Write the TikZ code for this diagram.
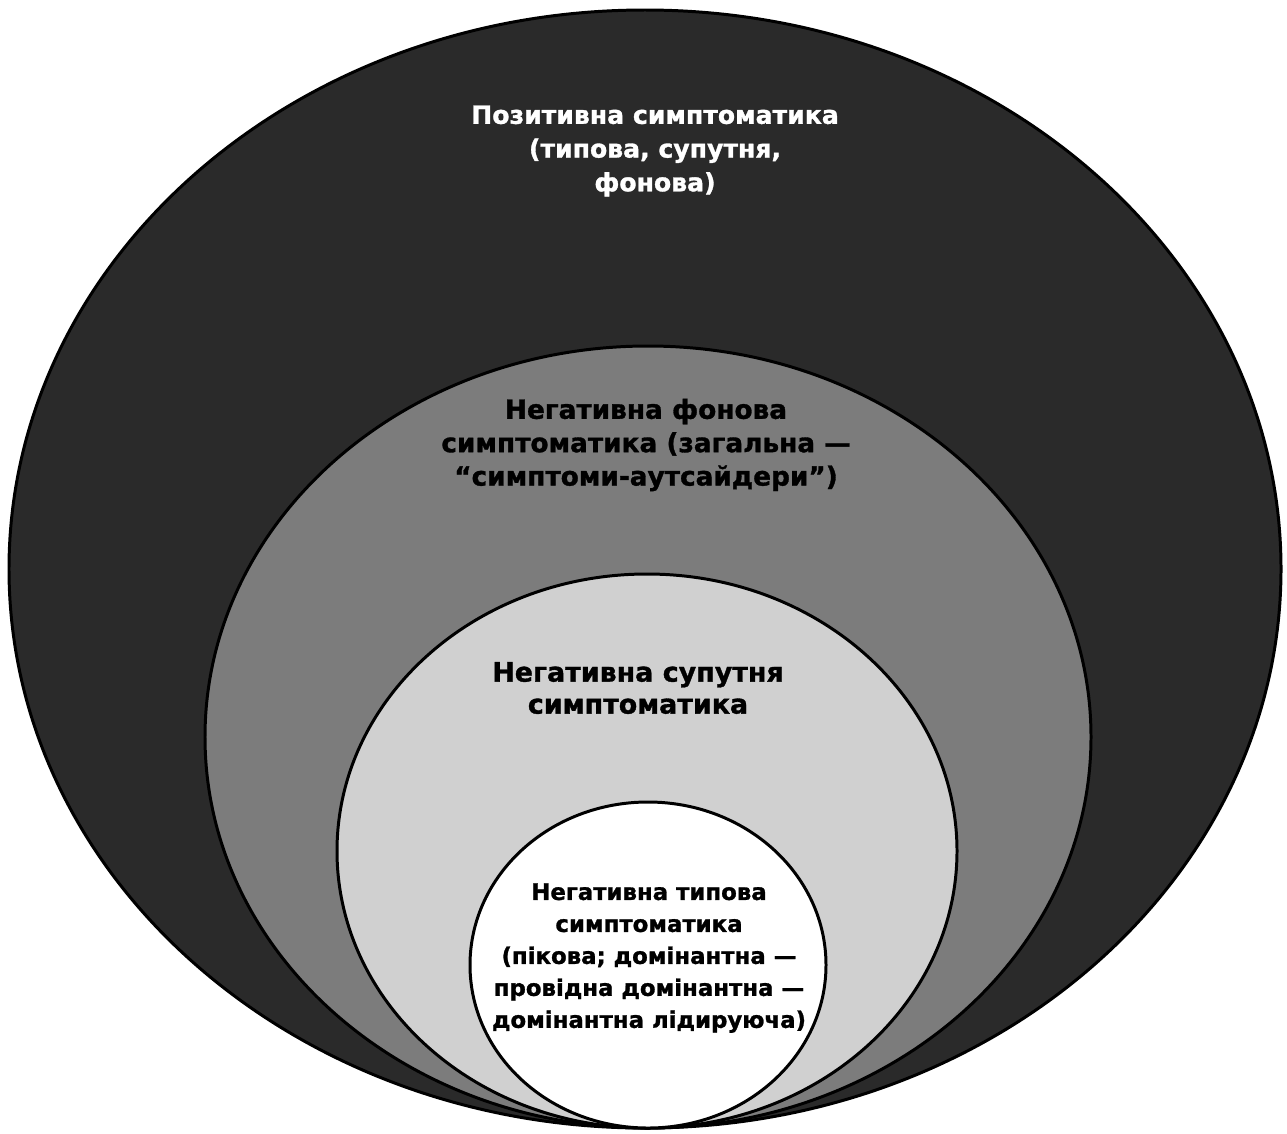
\documentclass[tikz,border=0pt]{standalone}
\usepackage{fontspec}
\setmainfont{DejaVu Sans}
\newfontfamily\heavyfont{DejaVu Sans Bold}[FakeBold=1.2]
\definecolor{darkfill}{HTML}{2A2A2A}
\definecolor{midfill}{HTML}{7C7C7C}
\definecolor{lightfill}{HTML}{D0D0D0}
\begin{document}
\begin{tikzpicture}[x=0.02cm,y=-0.02cm,
  ring/.style={draw=black,line width=1.7pt},
  lbl/.style={align=center,inner sep=0pt}]
\useasboundingbox[fill=white] (0,0) rectangle (1287,1133);
\draw[ring,fill=darkfill] (645,569) ellipse [x radius=636,y radius=559];
\draw[ring,fill=midfill] (648,737) ellipse [x radius=443,y radius=391];
\draw[ring,fill=lightfill] (647,851) ellipse [x radius=310,y radius=277];
\draw[ring,fill=white] (648,965) ellipse [x radius=178,y radius=163];
\node[lbl,text=white,font=\heavyfont\fontsize{14.3}{19.2}\selectfont] (pos) at (655,151) {Позитивна симптоматика\\(типова, супутня,\\фонова)};
\node[lbl,font=\heavyfont\fontsize{15}{19}\selectfont] (neg1) at (646,445) {Негативна фонова\\симптоматика (загальна —\\“симптоми-аутсайдери”)};
\node[lbl,font=\heavyfont\fontsize{15.3}{18.2}\selectfont] (neg2) at (638,688) {Негативна супутня\\симптоматика};
\node[lbl,font=\heavyfont\fontsize{13}{18.2}\selectfont] (neg3) at (649,958) {Негативна типова\\симптоматика\\(пікова; домінантна —\\провідна домінантна —\\домінантна лідируюча)};
\end{tikzpicture}
\end{document}
